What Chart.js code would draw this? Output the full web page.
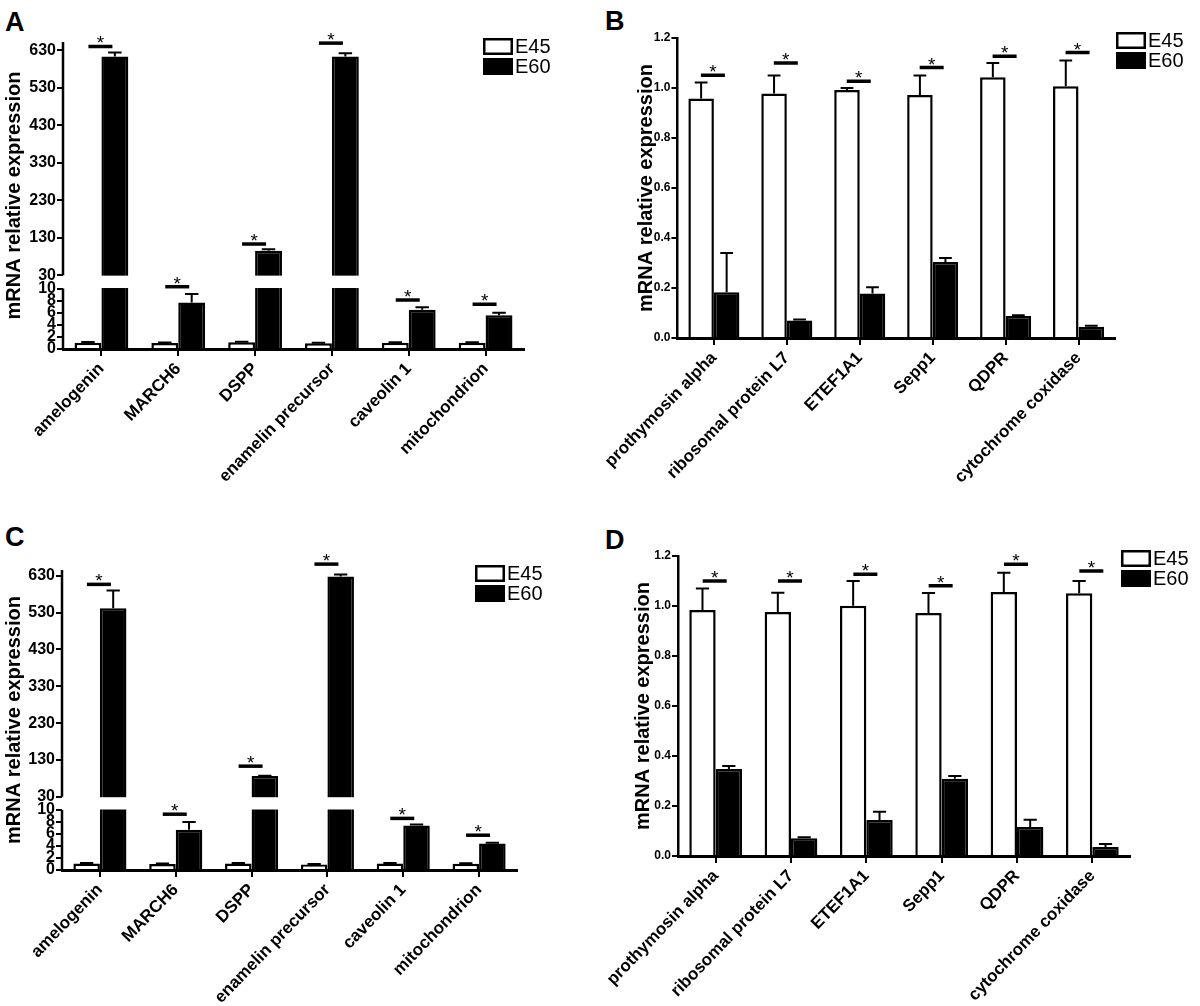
<!DOCTYPE html>
<html>
<head>
<meta charset="utf-8">
<script src="https://cdn.jsdelivr.net/npm/chart.js@4.4.0/dist/chart.umd.min.js"></script>
<style>
  html, body { margin: 0; padding: 0; background: #fff; }
  body { width: 1200px; height: 1006px; position: relative; overflow: hidden; font-family: "Liberation Sans", Arial, sans-serif; }
  canvas { position: absolute; }
  .letra { position: absolute; font-weight: bold; font-size: 27px; line-height: 27px; }
</style>
</head>
<body>
<div class="letra" style="left:5px;top:9px">A</div>
<div class="letra" style="left:605px;top:8px">B</div>
<div class="letra" style="left:5px;top:524px">C</div>
<div class="letra" style="left:605px;top:527px">D</div>
<canvas id="graficaA" width="600" height="500" style="left:0;top:0"></canvas>
<canvas id="graficaB" width="600" height="500" style="left:600px;top:0"></canvas>
<canvas id="graficaC" width="600" height="506" style="left:0;top:500px"></canvas>
<canvas id="graficaD" width="600" height="506" style="left:600px;top:500px"></canvas>
<script>
// categorias y ticks
const categoriasAC = ["amelogenin", "MARCH6", "DSPP", "enamelin precursor", "caveolin 1", "mitochondrion"];
const categoriasBD = ["prothymosin alpha", "ribosomal protein L7", "ETEF1A1", "Sepp1", "QDPR", "cytochrome coxidase"];
const ticksRotos = [0, 2, 4, 6, 8, 10, 30, 130, 230, 330, 430, 530, 630];
const ticksNormales = [0, 0.2, 0.4, 0.6, 0.8, 1.0, 1.2];

// panel A
const e45A = [1.05, 1.0, 1.1, 0.95, 1.05, 1.05];
const e45AErr = [0.1, 0.08, 0.1, 0.08, 0.08, 0.08];
const e60A = [613, 7.7, 95, 613, 6.5, 5.6];
const e60AErr = [11, 1.4, 4, 9, 0.4, 0.4];
const sigA = [640, 10.3, 113, 649, 8.1, 7.4];

// panel B
const e45B = [0.958, 0.978, 0.992, 0.972, 1.043, 1.007];
const e45BErr = [0.064, 0.072, 0.008, 0.078, 0.057, 0.103];
const e60B = [0.183, 0.070, 0.178, 0.304, 0.088, 0.045];
const e60BErr = [0.157, 0.004, 0.025, 0.016, 0.003, 0.004];
const sigB = [1.051, 1.1, 1.027, 1.082, 1.127, 1.142];

// panel C
const e45C = [1.1, 1.0, 1.1, 0.9, 1.1, 1.05];
const e45CErr = [0.08, 0.08, 0.08, 0.08, 0.08, 0.08];
const e60C = [542, 6.7, 86, 628, 7.4, 4.4];
const e60CErr = [48, 1.3, 1, 6, 0.2, 0.15];
const sigC = [607, 9.3, 113, 662, 8.6, 5.8];

// panel D
const e45D = [0.984, 0.976, 1.001, 0.972, 1.056, 1.051];
const e45DErr = [0.086, 0.077, 0.099, 0.08, 0.077, 0.049];
const e60D = [0.348, 0.071, 0.144, 0.309, 0.116, 0.036];
const e60DErr = [0.012, 0.004, 0.033, 0.011, 0.029, 0.012];
const sigD = [1.1, 1.1, 1.127, 1.081, 1.167, 1.14];

Chart.defaults.font.family = '"Liberation Sans", Arial, sans-serif';
Chart.defaults.color = "#000";

//escala con eje cortado (0-10 abajo, 30-max arriba)
class EscalaRota extends Chart.LinearScale {
  getPixelForValue(v) {
    const o = this.options;
    const alto = this.bottom - this.top;
    const bajo = alto * o.fraccionBaja;
    const hueco = alto * o.fraccionHueco;
    if (v < o.inicioAlto) return this.bottom - v / o.finBajo * bajo;
    const base = this.bottom - bajo - hueco;
    return base - (v - o.inicioAlto) / (this.max - o.inicioAlto) * (base - this.top);
  }
}
EscalaRota.id = "rota";
EscalaRota.defaults = Chart.LinearScale.defaults;
Chart.register(EscalaRota);

function crearDecoraciones(cfg) {
  return {
    id: "decoraciones",
    afterDatasetsDraw(chart) {
      const { ctx, chartArea, scales: { x, y } } = chart;
      ctx.save();
      if (cfg.roto) {
        const yArriba = y.getPixelForValue(y.options.inicioAlto);
        const yAbajo = y.getPixelForValue(y.options.finBajo);
        ctx.fillStyle = "#fff";
        ctx.fillRect(chartArea.left + 2, yArriba + 0.5, chartArea.width + 10, yAbajo - yArriba - 1);
      }
      // barras de error (solo hacia arriba)
      ctx.strokeStyle = "#000";
      ctx.lineWidth = 2;
      chart.data.datasets.forEach((ds, i) => {
        chart.getDatasetMeta(i).data.forEach((barra, j) => {
          const y0 = y.getPixelForValue(ds.data[j]);
          const y1 = y.getPixelForValue(ds.data[j] + ds.errores[j]);
          const medio = barra.width * 0.25;
          ctx.beginPath();
          ctx.moveTo(barra.x, y0);
          ctx.lineTo(barra.x, y1);
          ctx.moveTo(barra.x - medio, y1);
          ctx.lineTo(barra.x + medio, y1);
          ctx.stroke();
        });
      });
      // lineas de significancia con asterisco
      ctx.lineWidth = 3.5;
      ctx.fillStyle = "#000";
      ctx.font = "19px 'Liberation Sans', Arial, sans-serif";
      ctx.textAlign = "center";
      ctx.textBaseline = "alphabetic";
      cfg.sig.forEach((valor, j) => {
        const xc = x.getPixelForValue(j) - 1;
        const yc = y.getPixelForValue(valor);
        ctx.beginPath();
        ctx.moveTo(xc - 12, yc);
        ctx.lineTo(xc + 12, yc);
        ctx.stroke();
        ctx.fillText("*", xc, yc + 3);
      });
      ctx.restore();
    },
    afterDraw(chart) {
      const { ctx, chartArea, scales: { y } } = chart;
      ctx.save();
      if (cfg.roto) {
        ctx.strokeStyle = "#000";
        ctx.lineWidth = 2.5;
        ctx.beginPath();
        ctx.moveTo(chartArea.left, chartArea.top);
        ctx.lineTo(chartArea.left, y.getPixelForValue(y.options.inicioAlto));
        ctx.moveTo(chartArea.left, y.getPixelForValue(y.options.finBajo));
        ctx.lineTo(chartArea.left, chartArea.bottom);
        ctx.stroke();
      }
      // leyenda
      const { x: lx, y: ly } = cfg.leyenda;
      ctx.font = "20px 'Liberation Sans', Arial, sans-serif";
      ctx.textAlign = "left";
      ctx.textBaseline = "middle";
      chart.data.datasets.forEach((ds, i) => {
        const top = ly + i * 20;
        ctx.fillStyle = ds.backgroundColor;
        ctx.fillRect(lx, top, 30, 17);
        ctx.strokeStyle = "#000";
        ctx.lineWidth = 2.5;
        ctx.strokeRect(lx + 1.25, top + 1.25, 27.5, 14.5);
        ctx.fillStyle = "#000";
        ctx.fillText(ds.label, lx + 32, top + 9);
      });
      ctx.restore();
    }
  };
}

function crearGrafica(id, cfg) {
  const ejeY = cfg.roto ? {
    type: "rota", min: 0, max: cfg.max, bounds: "data",
    finBajo: 10, inicioAlto: 30, fraccionBaja: cfg.fraccionBaja, fraccionHueco: cfg.fraccionHueco,
    border: { display: false },
    ticks: { font: { size: 16, weight: "bold" }, padding: 1, autoSkip: false }
  } : {
    type: "linear", min: 0, max: 1.2,
    border: { display: true, color: "#000", width: 2.5 },
    ticks: { font: { size: 12, weight: "bold" }, padding: 1, autoSkip: false, callback: v => v.toFixed(1) }
  };
  ejeY.afterBuildTicks = s => { s.ticks = cfg.ticks.map(v => ({ value: v })); };
  ejeY.afterFit = s => { s.width = cfg.anchoY; };
  ejeY.grid = { display: true, drawOnChartArea: false, tickLength: 6, color: "#000", lineWidth: 2 };
  ejeY.title = { display: true, text: "mRNA relative expression", font: { size: 20, weight: "bold" }, padding: { top: 2, bottom: 0 } };

  new Chart(document.getElementById(id), {
    type: "bar",
    data: {
      labels: cfg.categorias,
      datasets: [
        { label: "E45", data: cfg.e45, errores: cfg.e45Err, backgroundColor: "#fff", borderColor: "#000", borderWidth: 2.5 },
        { label: "E60", data: cfg.e60, errores: cfg.e60Err, backgroundColor: "#000", borderColor: "#000", borderWidth: 2.5 }
      ]
    },
    options: {
      responsive: false,
      animation: false,
      devicePixelRatio: 1,
      layout: { padding: cfg.padding },
      datasets: { bar: { categoryPercentage: 0.7, barPercentage: 1 } },
      scales: {
        x: {
          afterFit: s => { s.height = cfg.altoX; },
          grid: { display: true, drawOnChartArea: false, offset: false, tickLength: 7, color: "#000", lineWidth: 2 },
          border: { display: true, color: "#000", width: 3 },
          ticks: { font: { size: 17, weight: "bold" }, minRotation: 46, maxRotation: 46, autoSkip: false, padding: 3 }
        },
        y: ejeY
      },
      plugins: { legend: { display: false }, tooltip: { enabled: false } }
    },
    plugins: [crearDecoraciones(cfg)]
  });
}

crearGrafica("graficaA", {
  categorias: categoriasAC, e45: e45A, e45Err: e45AErr, e60: e60A, e60Err: e60AErr, sig: sigA,
  roto: true, ticks: ticksRotos, max: 652, fraccionBaja: 0.197, fraccionHueco: 0.0436,
  padding: { left: 0, top: 42, right: 76, bottom: 0 }, anchoY: 63, altoX: 151,
  leyenda: { x: 483, y: 38 }
});

crearGrafica("graficaB", {
  categorias: categoriasBD, e45: e45B, e45Err: e45BErr, e60: e60B, e60Err: e60BErr, sig: sigB,
  roto: false, ticks: ticksNormales,
  padding: { left: 18, top: 38, right: 85, bottom: 0 }, anchoY: 45, altoX: 162,
  leyenda: { x: 516, y: 32 }
});

crearGrafica("graficaC", {
  categorias: categoriasAC, e45: e45C, e45Err: e45CErr, e60: e60C, e60Err: e60CErr, sig: sigC,
  roto: true, ticks: ticksRotos, max: 646, fraccionBaja: 0.2, fraccionHueco: 0.0443,
  padding: { left: 0, top: 70, right: 83, bottom: 0 }, anchoY: 62, altoX: 136,
  leyenda: { x: 475, y: 65 }
});

crearGrafica("graficaD", {
  categorias: categoriasBD, e45: e45D, e45Err: e45DErr, e60: e60D, e60Err: e60DErr, sig: sigD,
  roto: false, ticks: ticksNormales,
  padding: { left: 29, top: 56, right: 70, bottom: 0 }, anchoY: 49, altoX: 150,
  leyenda: { x: 521, y: 50 }
});
</script>
</body>
</html>
